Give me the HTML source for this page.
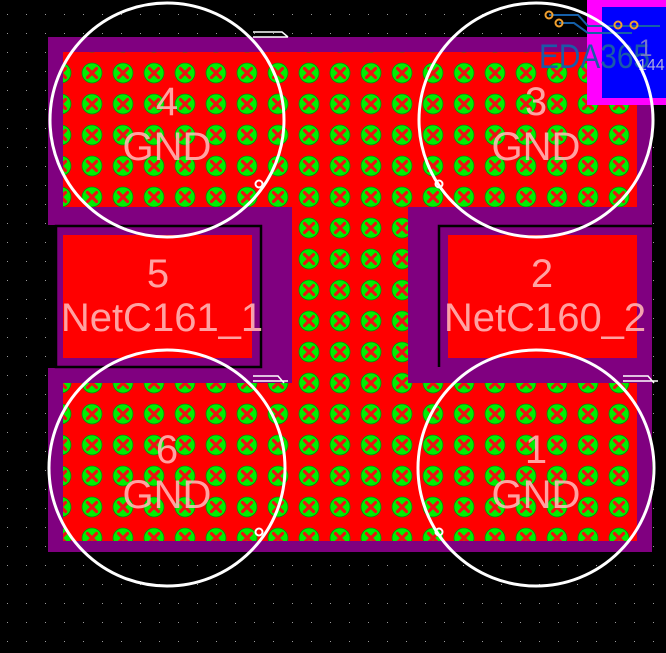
<!DOCTYPE html>
<html><head><style>html,body{margin:0;padding:0;background:#000;width:666px;height:653px;overflow:hidden}</style></head>
<body>
<svg width="666" height="653" viewBox="0 0 666 653" xmlns="http://www.w3.org/2000/svg" style="display:block">
<defs>
<pattern id="grid" x="0" y="0" width="19" height="19" patternUnits="userSpaceOnUse">
<rect x="7" y="14" width="1" height="1" fill="#9a9a9a"/>
</pattern>
<pattern id="via" x="76.5" y="57.5" width="31" height="31" patternUnits="userSpaceOnUse">
<rect width="31" height="31" fill="#ff0000"/>
<circle cx="15.5" cy="15.5" r="10" fill="#00ee00" stroke="#0a8a0a" stroke-width="0.8"/>
<path d="M11 11 L20 20 M20 11 L11 20" stroke="#ee1111" stroke-width="3.2" stroke-linecap="round"/>
</pattern>
</defs>
<rect width="666" height="653" fill="url(#grid)"/>
<g fill="#800080">
<rect x="48" y="37" width="604" height="188"/>
<rect x="48" y="368" width="604" height="184"/>
<rect x="48" y="210" width="244" height="15"/>
<rect x="262" y="200" width="30" height="190"/>
<rect x="408" y="200" width="244" height="183"/>
<rect x="55" y="225" width="207" height="143"/>
<rect x="48" y="368" width="244" height="15"/>
</g>
<rect x="56" y="226" width="205" height="141" fill="none" stroke="#000" stroke-width="2.5"/>
<path d="M439 367 V226 H652" fill="none" stroke="#000" stroke-width="2.5"/>
<rect x="63" y="52" width="574" height="155" fill="url(#via)"/>
<rect x="292" y="205" width="116" height="180" fill="url(#via)"/>
<rect x="63" y="383" width="574" height="158" fill="url(#via)"/>
<rect x="63" y="235" width="189" height="123" fill="#ff0000"/>
<rect x="448" y="235" width="189" height="123" fill="#ff0000"/>
<rect x="587" y="0" width="79" height="105" fill="#ff00ff"/>
<rect x="602" y="7" width="64" height="91" fill="#0000ff"/>
<path d="M549 15 H578 L588 26 H660" fill="none" stroke="#1560a8" stroke-width="2"/>
<path d="M559 23 H574 L588 33 H632" fill="none" stroke="#1560a8" stroke-width="2"/>
<circle cx="549" cy="15" r="3.5" fill="none" stroke="#f0a030" stroke-width="2"/>
<circle cx="559" cy="23" r="3.5" fill="none" stroke="#f0a030" stroke-width="2"/>
<circle cx="618" cy="25" r="3.5" fill="none" stroke="#f0a030" stroke-width="2"/>
<circle cx="634" cy="25" r="3.5" fill="none" stroke="#f0a030" stroke-width="2"/>
<text x="539" y="68" font-family="Liberation Sans, sans-serif" font-size="34" fill="#1a5aa8" textLength="111" lengthAdjust="spacingAndGlyphs">EDA365</text>
<text x="639" y="56" font-family="Liberation Sans, sans-serif" font-size="24" fill="#7777cc">1</text>
<text x="638" y="70" font-family="Liberation Sans, sans-serif" font-size="16" fill="#aaaadd">144</text>
<g fill="none" stroke="#fff" stroke-width="3">
<circle cx="167" cy="120" r="117"/>
<circle cx="536" cy="120" r="117"/>
<circle cx="167" cy="468" r="118"/>
<circle cx="536" cy="468" r="118"/>
<circle cx="259" cy="184" r="3.5" stroke-width="2"/>
<circle cx="439" cy="184" r="3.5" stroke-width="2"/>
<circle cx="259" cy="532" r="3.5" stroke-width="2"/>
<circle cx="439" cy="532" r="3.5" stroke-width="2"/>
</g>
<g stroke="#fff" stroke-width="1.5" fill="none">
<path d="M253 32 H282 L288 37 M253 37 H288"/>
<path d="M253 376 H278 L284 383 M253 381 H288"/>
<path d="M623 376 H648 L654 383 M623 381 H658"/>
</g>
<g font-family="Liberation Sans, sans-serif" font-size="40" fill="#ffb4b4" fill-opacity="0.9" text-anchor="middle">
<text x="167" y="115">4</text><text x="167" y="160">GND</text>
<text x="536" y="115">3</text><text x="536" y="160">GND</text>
<text x="158" y="287">5</text><text x="162" y="331">NetC161_1</text>
<text x="542" y="287">2</text><text x="545" y="331">NetC160_2</text>
<text x="167" y="463">6</text><text x="167" y="508">GND</text>
<text x="536" y="463">1</text><text x="536" y="508">GND</text>
</g>
</svg>
</body></html>
